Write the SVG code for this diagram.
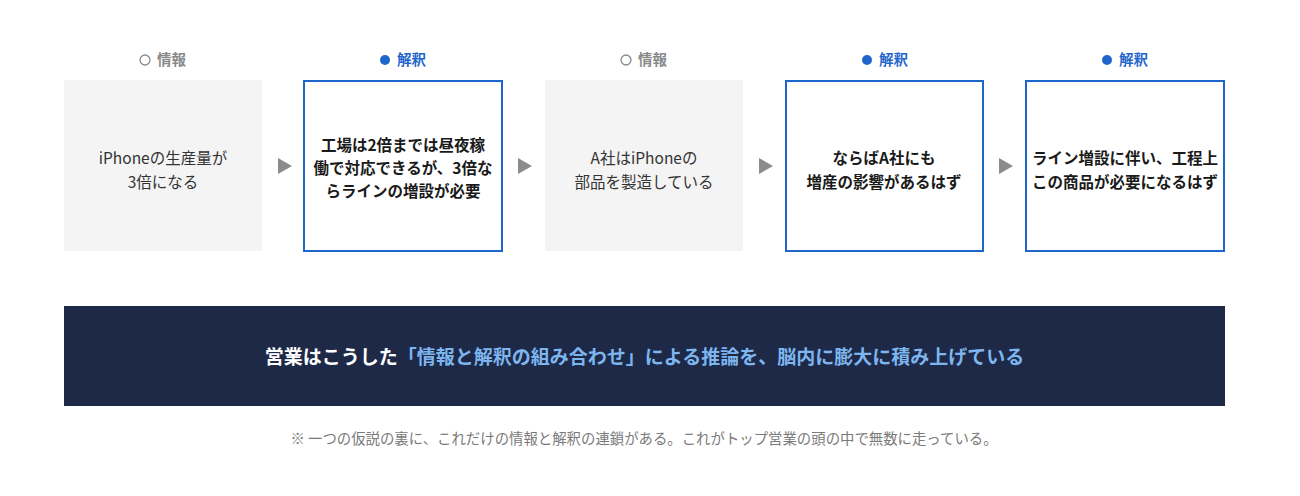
<svg xmlns="http://www.w3.org/2000/svg" width="1300" height="496" viewBox="0 0 1300 496">
<style>
text{font-family:"Noto Sans CJK JP","Noto Sans",sans-serif;}
.info{fill:#f4f4f4;}
.interp{fill:#ffffff;stroke:#1f66cc;stroke-width:2;}
.lblI{font-size:14.5px;font-weight:bold;fill:#8a8a8a;}
.lblB{font-size:14.5px;font-weight:bold;fill:#1f66cc;}
.t{font-size:15.5px;fill:#333333;text-anchor:middle;}
.tb{font-size:15.5px;font-weight:bold;fill:#1a1a1a;text-anchor:middle;}
.arr{fill:#8c8c8c;}
</style>
<rect width="1300" height="496" fill="#ffffff"/>
<g id="node1">
<circle cx="145" cy="60" r="5" fill="none" stroke="#8a8a8a" stroke-width="1.3"/>
<text class="lblI" x="157" y="65">情報</text>
<rect class="info" x="64" y="80" width="198" height="171"/>
<text class="t" x="163" y="164">iPhoneの生産量が</text>
<text class="t" x="163" y="188">3倍になる</text>
</g>
<g id="node2">
<circle cx="385" cy="60" r="5" fill="#1f66cc"/>
<text class="lblB" x="397" y="65">解釈</text>
<rect class="interp" x="304" y="81" width="198" height="170"/>
<text class="tb" x="403" y="151">工場は2倍までは昼夜稼</text>
<text class="tb" x="403" y="174">働で対応できるが、3倍な</text>
<text class="tb" x="403" y="197">らラインの増設が必要</text>
</g>
<g id="node3">
<circle cx="626" cy="60" r="5" fill="none" stroke="#8a8a8a" stroke-width="1.3"/>
<text class="lblI" x="638" y="65">情報</text>
<rect class="info" x="545" y="80" width="198" height="171"/>
<text class="t" x="644" y="164">A社はiPhoneの</text>
<text class="t" x="644" y="188">部品を製造している</text>
</g>
<g id="node4">
<circle cx="867" cy="60" r="5" fill="#1f66cc"/>
<text class="lblB" x="879" y="65">解釈</text>
<rect class="interp" x="786" y="81" width="197" height="170"/>
<text class="tb" x="884" y="164">ならばA社にも</text>
<text class="tb" x="884" y="188">増産の影響があるはず</text>
</g>
<g id="node5">
<circle cx="1107" cy="60" r="5" fill="#1f66cc"/>
<text class="lblB" x="1119" y="65">解釈</text>
<rect class="interp" x="1026" y="81" width="198" height="170"/>
<text class="tb" x="1125" y="164">ライン増設に伴い、工程上</text>
<text class="tb" x="1125" y="188">この商品が必要になるはず</text>
</g>
<g id="connectors">
<polygon class="arr" points="278,158 292,166 278,174"/>
<polygon class="arr" points="518,158 532,166 518,174"/>
<polygon class="arr" points="759,158 773,166 759,174"/>
<polygon class="arr" points="999,158 1013,166 999,174"/>
</g>
<g id="banner">
<rect x="64" y="306" width="1161" height="100" fill="#1e2947"/>
<text x="644.5" y="364" text-anchor="middle" font-size="19" font-weight="bold" fill="#ffffff">営業はこうした<tspan fill="#7db6ef">「情報と解釈の組み合わせ」による推論を、脳内に膨大に積み上げている</tspan></text>
</g>
<g id="footnote">
<text x="644" y="444" text-anchor="middle" font-size="14.4" fill="#7a7a7a">※ 一つの仮説の裏に、これだけの情報と解釈の連鎖がある。これがトップ営業の頭の中で無数に走っている。</text>
</g>
</svg>
